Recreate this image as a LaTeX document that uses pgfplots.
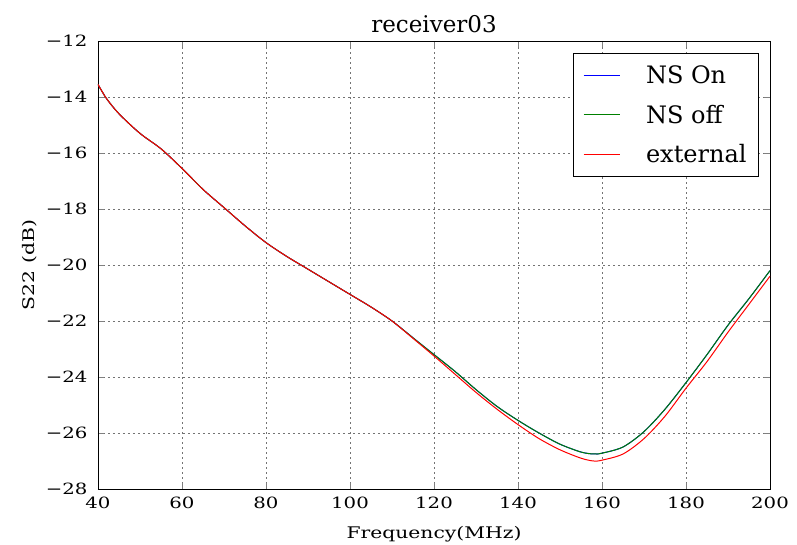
\documentclass[border=0pt]{standalone}
\usepackage{fontspec}
\setmainfont{DejaVu Serif}
\newfontfamily\widefont[FakeStretch=1.27]{DejaVu Serif}
\usepackage{pgfplots}
\pgfplotsset{compat=1.18}
\definecolor{mplblue}{rgb}{0,0,1}
\definecolor{mplgreen}{rgb}{0,0.5,0}
\definecolor{mplred}{rgb}{1,0,0}

\begin{document}
\begin{tikzpicture}
\begin{axis}[
  width=672pt, height=448pt, scale only axis,
  xmin=40, xmax=200, ymin=-28, ymax=-12,
  xtick={40,60,...,200}, ytick={-28,-26,...,-12},
  yticklabels={−28,−26,−24,−22,−20,−18,−16,−14,−12},
  tick align=inside, tick pos=both,
  major tick length=6pt,
  grid=major, grid style={black!55, dash pattern=on 2pt off 3pt, line width=0.5pt},
  axis line style={line width=0.8pt},
  /pgf/number format/assume math mode=true,
  tick label style={font=\widefont\fontsize{15.5}{17}\selectfont},
  xticklabel style={yshift=-4pt},
  yticklabel style={xshift=-7pt},
  xlabel={Frequency(MHz)}, ylabel={S22 (dB)},
  label style={font=\widefont\fontsize{16}{18}\selectfont},
  xlabel shift=11pt, ylabel shift=2pt,
  title={receiver03},
  title style={font=\fontsize{23}{26}\selectfont, yshift=-1pt},
  legend style={font=\fontsize{24}{27}\selectfont, draw=black, line width=1pt,
    at={(1,1)}, anchor=north east, xshift=-11pt, yshift=-12pt,
    inner xsep=10pt, inner ysep=10pt, row sep=16pt,
    /tikz/every odd column/.append style={column sep=24pt}},
  legend cell align=left,
  legend image code/.code={\draw[#1, line width=1pt] (0pt,0pt) -- (36pt,0pt);},
  every axis plot/.append style={smooth, tension=0.5},
]
\addplot[mplblue, line width=1pt] coordinates {
(40,-13.55) (42,-14.05) (45,-14.6) (50,-15.3) (55,-15.85) (60,-16.55)
(65,-17.3) (70,-17.95) (75,-18.6) (80,-19.2) (85,-19.7) (90,-20.15)
(95,-20.6) (100,-21.05) (105,-21.5) (110,-22.0) (115,-22.6) (120,-23.2)
(125,-23.8) (130,-24.45) (135,-25.05) (140,-25.55) (145,-26.0) (150,-26.4)
(155,-26.68) (158,-26.75) (160,-26.72) (165,-26.5) (170,-25.95) (175,-25.15)
(180,-24.2) (185,-23.2) (190,-22.15) (195,-21.2) (200,-20.2)};
\addlegendentry{NS On}
\addplot[mplgreen, line width=1pt] coordinates {
(40,-13.55) (42,-14.05) (45,-14.6) (50,-15.3) (55,-15.85) (60,-16.55)
(65,-17.3) (70,-17.95) (75,-18.6) (80,-19.2) (85,-19.7) (90,-20.15)
(95,-20.6) (100,-21.05) (105,-21.5) (110,-22.0) (115,-22.6) (120,-23.2)
(125,-23.8) (130,-24.45) (135,-25.05) (140,-25.55) (145,-26.0) (150,-26.4)
(155,-26.68) (158,-26.75) (160,-26.72) (165,-26.5) (170,-25.95) (175,-25.15)
(180,-24.2) (185,-23.2) (190,-22.15) (195,-21.2) (200,-20.2)};
\addlegendentry{NS off}
\addplot[mplred, line width=1pt] coordinates {
(40,-13.55) (42,-14.05) (45,-14.6) (50,-15.3) (55,-15.85) (60,-16.55)
(65,-17.3) (70,-17.95) (75,-18.6) (80,-19.2) (85,-19.7) (90,-20.15)
(95,-20.6) (100,-21.05) (105,-21.5) (110,-22.0) (115,-22.62) (120,-23.25)
(125,-23.9) (130,-24.55) (135,-25.15) (140,-25.7) (145,-26.2) (150,-26.6)
(155,-26.9) (158,-27.0) (160,-26.97) (165,-26.75) (170,-26.2) (175,-25.4)
(180,-24.4) (185,-23.45) (190,-22.4) (195,-21.4) (200,-20.4)};
\addlegendentry{external}
\end{axis}
\pgfresetboundingbox
\path (current axis.south west) ++(-98pt,-56pt) coordinate (bbsw);
\path (current axis.north east) ++(27pt,41pt) coordinate (bbne);
\useasboundingbox (bbsw) rectangle (bbne);
\end{tikzpicture}
\end{document}
